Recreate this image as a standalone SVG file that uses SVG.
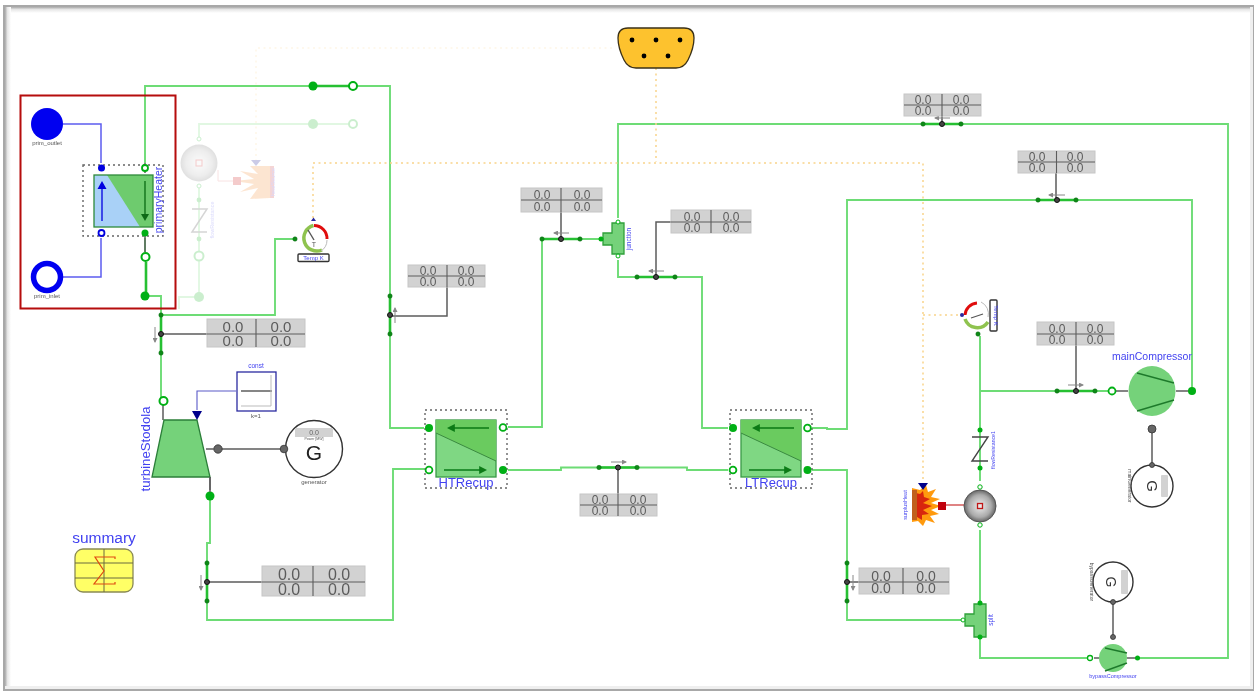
<svg xmlns="http://www.w3.org/2000/svg" width="1257" height="695" viewBox="0 0 1257 695">
<style>
text{font-family:"Liberation Sans",Arial,sans-serif;text-anchor:middle}
.g{fill:none;stroke:#6ddc75;stroke-width:1.9}
.gt{fill:none;stroke:#25c032;stroke-width:2.6}
.bl{fill:none;stroke:#5c5cf0;stroke-width:1.5}
.y{fill:none;stroke:#f9d48a;stroke-width:1.5;stroke-dasharray:2 3.5}
.sh{fill:none;stroke:#5c5c5c;stroke-width:1.5}
.tb{fill:#d2d2d2;stroke:#c6c6c6;stroke-width:1}
.tl{stroke:#5c5c5c;stroke-width:1.1;fill:none}
.tv{fill:#5c5c5c}
.dot{fill:#00b012}
.open{fill:#fff;stroke:#00b012}
.sd{fill:#0c8a14;stroke:#0b6a12;stroke-width:.5}
.sc{fill:#444;stroke:#111;stroke-width:1}
.lbl{fill:#4343f0}
.dash{fill:none;stroke:#666;stroke-width:1.4;stroke-dasharray:2 3}
.ar{fill:none;stroke:#0a7a16;stroke-width:1.6}
.sarr{fill:none;stroke:#888;stroke-width:1;marker-end:url(#sa)}
.comp{fill:#74d27a}
.cl{stroke:#1f7a2c;stroke-width:1.4;fill:none}
.gen{fill:#fff;stroke:#333;stroke-width:1.4}
.gd{fill:#666;stroke:#333;stroke-width:.8}
</style>
<defs>
<filter id="soft" filterUnits="userSpaceOnUse" x="0" y="0" width="1257" height="695"><feGaussianBlur stdDeviation="0.45"/></filter>
<marker id="sa" markerWidth="5" markerHeight="5" refX="4" refY="2.5" orient="auto"><path d="M0 0L5 2.5L0 5Z" fill="#888"/></marker>
<marker id="da" markerWidth="5" markerHeight="5" refX="3" refY="2.5" orient="auto"><path d="M0 0L5 2.5L0 5Z" fill="#0a7a16"/></marker>
<radialGradient id="ball"><stop offset="0" stop-color="#eee"/><stop offset=".7" stop-color="#aaa"/><stop offset="1" stop-color="#666"/></radialGradient>
<linearGradient id="fr" x1="0" y1="0" x2="0" y2="1"><stop offset="0" stop-color="#aaa"/><stop offset=".4" stop-color="#e6e6e6"/><stop offset="1" stop-color="#fff"/></linearGradient>
<linearGradient id="fl" x1="0" y1="0" x2="1" y2="0"><stop offset="0" stop-color="#aaa"/><stop offset=".4" stop-color="#e6e6e6"/><stop offset="1" stop-color="#fff"/></linearGradient>
</defs>
<g id="diagram" filter="url(#soft)">
<g id="frame">
<rect width="1257" height="695" fill="#fff"/>
<rect x="4" y="6" width="1249" height="684" fill="none" stroke="#a8a8a8" stroke-width="2"/>
<rect x="5" y="7" width="1247" height="6" fill="url(#fr)"/>
<rect x="5" y="7" width="6" height="682" fill="url(#fl)"/>
<rect x="1250" y="7" width="3" height="682" fill="#efefef"/>
<rect x="5" y="686" width="1247" height="3" fill="#efefef"/>
</g>
<g id="faded" opacity=".2">
<path d="M353 124H199V139M199 186V297M199 297H179V309" class="g"/>
<path d="M612 48H256V160" class="y"/>
<path d="M218 170V181H233" fill="none" stroke="#e07070" stroke-width="1"/>
<circle cx="199" cy="163" r="18.5" fill="url(#ball)"/>
<rect x="196" y="160" width="6" height="6" fill="none" stroke="#c00" stroke-width="1"/>
<circle cx="199" cy="139" r="2" class="open"/><circle cx="199" cy="186" r="2" class="open"/>
<circle cx="313" cy="124" r="5" class="dot"/><circle cx="353" cy="124" r="4" class="open" stroke-width="2"/>
<circle cx="199" cy="200" r="2.4" class="dot"/><circle cx="199" cy="239" r="2.4" class="dot"/>
<path d="M192 209H207L192 232H207" fill="none" stroke="#333" stroke-width="1.5"/>
<circle cx="199" cy="256" r="4.5" class="open" stroke-width="2"/><circle cx="199" cy="297" r="5" class="dot"/>
<text x="214" y="220" font-size="5.500" class="lbl" transform="rotate(-90 214 220)">flowResistance</text>
<path d="M270 166L250 166L258 174L240 171L254 179L234 181L254 184L240 192L258 188L250 199L270 198Z" fill="#f58220"/>
<rect x="233" y="177" width="8" height="8" fill="#c00"/>
<path d="M251 160H261L256 166Z" fill="#00008b"/>
<rect x="270" y="166" width="4" height="32" fill="#c33"/>
<text x="275" y="182" font-size="5.500" class="lbl" transform="rotate(-90 275 182)">heatSource</text>
</g>
<g id="connectors">
<path d="M145 163V86H313M353 86H390V428H424M145 238V252M146 262V296H161V400" class="g"/>
<path d="M313 86H349M146 262V296" class="gt"/>
<path d="M161 315H275V239H295" class="g"/>
<path d="M161 315V353" class="gt"/>
<path d="M210 497V543H207V620H393V469H424" class="g"/>
<path d="M508 427H542V239H600" class="g"/><path d="M542 239H580" class="gt"/>
<path d="M618 218V124H1228V658H1137" class="g"/>
<path d="M618 260V277H702V428H728" class="g"/><path d="M637 277H675" class="gt"/>
<path d="M508 470H561V467.500H687V470H728" class="g"/><path d="M599 467.500H637" class="gt"/>
<path d="M812 428H827V429H847V200H1192V391" class="g"/><path d="M1038 200H1076" class="gt"/>
<path d="M812 470H847V620H961" class="g"/><path d="M847 563V601" class="gt"/>
<path d="M980 603V530M980 481V336M980 391H1108" class="g"/><path d="M1057 391H1095" class="gt"/>
<path d="M980 637V658H1087" class="g"/>
<path d="M923 124H961M390 296V335" class="gt" stroke-width="1.6"/>
<path d="M207 563V601" class="gt"/>
<path d="M63 124H101V163M63 277H101V238" class="bl"/>
<path d="M236 391H197V410" fill="none" stroke="#5a5ac8" stroke-width="1.100"/>
<path d="M656 68V162M313 218V163H923V480M923 315H964" class="y"/>
<path d="M945 505H964" fill="none" stroke="#d45a5a" stroke-width="1.500"/>
<path d="M218 449H284M1152 433V465M1113 603V637" class="sh" stroke-width="1.700"/>
<path d="M145 173V163M145 233V252M163 405V420M210 477V490M1116 391H1128M1176 391H1192M1094 658H1099M1127 658H1137" class="sh"/>
<path d="M942 105V124M1056 162V200M561 200V239M711 222H656V277M447 276V316H390M618 505V467M256 334H161M313 582H207M903 582H847M1076 333V391" class="sh"/>
</g>
<g id="sensors">
<g id="flow1"><circle cx="923" cy="124" r="2.200" class="sd"/><circle cx="942" cy="124" r="2.500" class="sc"/><circle cx="961" cy="124" r="2.200" class="sd"/><path d="M950 118H935" class="sarr"/></g>
<g id="flow2"><circle cx="1038" cy="200" r="2.200" class="sd"/><circle cx="1057" cy="200" r="2.500" class="sc"/><circle cx="1076" cy="200" r="2.200" class="sd"/><path d="M1065 195H1049" class="sarr"/></g>
<g id="flow3"><circle cx="542" cy="239" r="2.200" class="sd"/><circle cx="561" cy="239" r="2.500" class="sc"/><circle cx="580" cy="239" r="2.200" class="sd"/><path d="M569 233H554" class="sarr"/></g>
<g id="flow4"><circle cx="637" cy="277" r="2.200" class="sd"/><circle cx="656" cy="277" r="2.500" class="sc"/><circle cx="675" cy="277" r="2.200" class="sd"/><path d="M664 271H649" class="sarr"/></g>
<g id="flow5"><circle cx="390" cy="296" r="2.200" class="sd"/><circle cx="390" cy="315" r="2.500" class="sc"/><circle cx="390" cy="334" r="2.200" class="sd"/><path d="M395 323V308" class="sarr"/></g>
<g id="flow6"><circle cx="599" cy="467.500" r="2.200" class="sd"/><circle cx="618" cy="467.500" r="2.500" class="sc"/><circle cx="637" cy="467.500" r="2.200" class="sd"/><path d="M611 462H626" class="sarr"/></g>
<g id="flow7"><circle cx="161" cy="315" r="2.200" class="sd"/><circle cx="161" cy="334" r="2.500" class="sc"/><circle cx="161" cy="353" r="2.200" class="sd"/><path d="M155 327V342" class="sarr"/></g>
<g id="flow8"><circle cx="207" cy="563" r="2.200" class="sd"/><circle cx="207" cy="582" r="2.500" class="sc"/><circle cx="207" cy="601" r="2.200" class="sd"/><path d="M201 575V590" class="sarr"/></g>
<g id="flow9"><circle cx="847" cy="563" r="2.200" class="sd"/><circle cx="847" cy="582" r="2.500" class="sc"/><circle cx="847" cy="601" r="2.200" class="sd"/><path d="M853 575V590" class="sarr"/></g>
<g id="flow10"><circle cx="1057" cy="391" r="2.200" class="sd"/><circle cx="1076" cy="391" r="2.500" class="sc"/><circle cx="1095" cy="391" r="2.200" class="sd"/><path d="M1068 385H1083" class="sarr"/></g>
</g>
<g id="tables">
<g id="table1"><rect x="904" y="94" width="77" height="22" class="tb"/><path d="M904 105H981M942 94V116" class="tl"/><text x="923" y="104" font-size="12" class="tv">0.0</text><text x="961" y="104" font-size="12" class="tv">0.0</text><text x="923" y="115" font-size="12" class="tv">0.0</text><text x="961" y="115" font-size="12" class="tv">0.0</text></g>
<g id="table2"><rect x="1018" y="151" width="77" height="22" class="tb"/><path d="M1018 162H1095M1056.500 151V173" class="tl"/><text x="1037" y="161" font-size="12" class="tv">0.0</text><text x="1075" y="161" font-size="12" class="tv">0.0</text><text x="1037" y="172" font-size="12" class="tv">0.0</text><text x="1075" y="172" font-size="12" class="tv">0.0</text></g>
<g id="table3"><rect x="521" y="188" width="81" height="24" class="tb"/><path d="M521 200H602M561 188V212" class="tl"/><text x="542" y="199" font-size="12" class="tv">0.0</text><text x="582" y="199" font-size="12" class="tv">0.0</text><text x="542" y="211" font-size="12" class="tv">0.0</text><text x="582" y="211" font-size="12" class="tv">0.0</text></g>
<g id="table4"><rect x="671" y="210" width="80" height="23" class="tb"/><path d="M671 222H751M711 210V233" class="tl"/><text x="692" y="221" font-size="12" class="tv">0.0</text><text x="731" y="221" font-size="12" class="tv">0.0</text><text x="692" y="232" font-size="12" class="tv">0.0</text><text x="731" y="232" font-size="12" class="tv">0.0</text></g>
<g id="table5"><rect x="408" y="265" width="77" height="22" class="tb"/><path d="M408 276H485M447 265V287" class="tl"/><text x="428" y="275" font-size="12" class="tv">0.0</text><text x="466" y="275" font-size="12" class="tv">0.0</text><text x="428" y="286" font-size="12" class="tv">0.0</text><text x="466" y="286" font-size="12" class="tv">0.0</text></g>
<g id="table6"><rect x="580" y="494" width="77" height="22" class="tb"/><path d="M580 505H657M618 494V516" class="tl"/><text x="600" y="504" font-size="12" class="tv">0.0</text><text x="638" y="504" font-size="12" class="tv">0.0</text><text x="600" y="515" font-size="12" class="tv">0.0</text><text x="638" y="515" font-size="12" class="tv">0.0</text></g>
<g id="table7"><rect x="207" y="319" width="98" height="28" class="tb"/><path d="M207 334H305M256 319V347" class="tl"/><text x="233" y="332" font-size="15" class="tv">0.0</text><text x="281" y="332" font-size="15" class="tv">0.0</text><text x="233" y="346" font-size="15" class="tv">0.0</text><text x="281" y="346" font-size="15" class="tv">0.0</text></g>
<g id="table8"><rect x="262" y="566" width="103" height="30" class="tb"/><path d="M262 582H365M313 566V596" class="tl"/><text x="289" y="580" font-size="16" class="tv">0.0</text><text x="339" y="580" font-size="16" class="tv">0.0</text><text x="289" y="595" font-size="16" class="tv">0.0</text><text x="339" y="595" font-size="16" class="tv">0.0</text></g>
<g id="table9"><rect x="859" y="568" width="90" height="26" class="tb"/><path d="M859 582H949M903 568V594" class="tl"/><text x="881" y="581" font-size="14" class="tv">0.0</text><text x="926" y="581" font-size="14" class="tv">0.0</text><text x="881" y="593" font-size="14" class="tv">0.0</text><text x="926" y="593" font-size="14" class="tv">0.0</text></g>
<g id="table10"><rect x="1037" y="322" width="77" height="23" class="tb"/><path d="M1037 334H1114M1076 322V345" class="tl"/><text x="1057" y="333" font-size="12" class="tv">0.0</text><text x="1095" y="333" font-size="12" class="tv">0.0</text><text x="1057" y="344" font-size="12" class="tv">0.0</text><text x="1095" y="344" font-size="12" class="tv">0.0</text></g>
</g>
<g id="prim_outlet"><circle cx="47" cy="124" r="16" fill="#0000f0"/><text x="47" y="145" font-size="6" fill="#555">prim_outlet</text></g>
<g id="prim_inlet"><circle cx="47" cy="277" r="13.500" fill="#fff" stroke="#0000f0" stroke-width="5.500"/><text x="47" y="298" font-size="6" fill="#555">prim_inlet</text></g>
<g id="primaryHeater">
<rect x="83" y="165" width="80" height="71" class="dash"/>
<rect x="94" y="175" width="59" height="52" fill="#a9d1f7"/>
<path d="M107 175H153V227H140Z" fill="#6ecb6e"/>
<rect x="94" y="175" width="59" height="52" fill="none" stroke="#2f8a3a" stroke-width="1.300"/>
<path d="M102 221V186" fill="none" stroke="#0000e0" stroke-width="1.300"/><path d="M97.500 189L102 181L106.500 189Z" fill="#0000e0"/>
<path d="M145 181V216" fill="none" stroke="#0a6a14" stroke-width="1.300"/><path d="M141 214L145 221L149 214Z" fill="#0a6a14"/>
<circle cx="101.500" cy="168" r="3.500" fill="#0000e0"/><circle cx="101.500" cy="233" r="3" fill="#fff" stroke="#0000e0" stroke-width="1.800"/>
<circle cx="145" cy="168" r="3" fill="#fff" stroke="#00b012" stroke-width="1.800"/><circle cx="145" cy="233" r="3.500" class="dot"/>
<text x="162" y="200" font-size="10.500" class="lbl" transform="rotate(-90 162 200)">primaryHeater</text>
<circle cx="145.500" cy="257" r="4" class="open" stroke-width="2"/>
<circle cx="145" cy="296" r="4.500" class="dot"/>
<circle cx="313" cy="86" r="4.500" class="dot"/>
<circle cx="353" cy="86" r="4" class="open" stroke-width="2"/>
</g>
<rect id="highlight" x="20.500" y="95.500" width="155" height="213" fill="none" stroke="#b50808" stroke-width="2"/>
<g id="temp">
<path d="M313.500 225.500A13 13 0 1 0 322 250" fill="none" stroke="#8fc34f" stroke-width="3.500"/>
<path d="M314 225.500A13 13 0 0 1 327 239" fill="none" stroke="#e01010" stroke-width="3"/>
<path d="M327 240A13 13 0 0 1 321 251" fill="none" stroke="#bbb" stroke-width="1"/>
<path d="M308 230L314 240" stroke="#555" stroke-width="1.400"/>
<circle cx="295" cy="239" r="2.200" class="sd"/>
<path d="M311 221L313.500 217.500L316 221Z" fill="#2a2aa0"/>
<text x="314" y="247" font-size="7" fill="#555">T</text>
<rect x="298" y="254" width="31" height="7.500" rx="1" fill="#fff" stroke="#333" stroke-width="1.400"/>
<text x="313.500" y="260" font-size="6" class="lbl">Temp K</text>
</g>
<g id="turbineStodola">
<path d="M164 420H197L210 477H152Z" class="comp" stroke="#2c7f39" stroke-width="1.300"/>
<path d="M192 411H202L197 420Z" fill="#00008b"/>
<circle cx="163.500" cy="401" r="4" class="open" stroke-width="2"/>
<circle cx="210" cy="496" r="4.500" class="dot"/>
<circle cx="218" cy="449" r="4.200" class="gd"/>
<path d="M206 449H214" class="sh"/>
<path d="M210 477V492" class="sh"/>
<text x="150" y="449" font-size="13.200" class="lbl" transform="rotate(-90 150 449)">turbineStodola</text>
</g>
<g id="const">
<rect x="237" y="372" width="39" height="39" fill="#fff" stroke="#2a2aa0" stroke-width="1.300"/>
<path d="M241 391H272" stroke="#444" stroke-width="1.300"/>
<path d="M271 375V406H241" fill="none" stroke="#bbb" stroke-width="1"/>
<text x="256" y="368" font-size="6.500" class="lbl">const</text>
<text x="256" y="418" font-size="6" fill="#555">k=1</text>
</g>
<g id="generator">
<circle cx="314" cy="449" r="28.500" class="gen"/>
<rect x="295" y="428" width="38" height="9" fill="#d2d2d2"/>
<text x="314" y="435" font-size="7" fill="#666">0.0</text>
<text x="314" y="440" font-size="3.500" fill="#555">Power [MW]</text>
<text x="314" y="460" font-size="21" fill="#222">G</text>
<circle cx="284" cy="449" r="3.800" class="gd"/>
<text x="314" y="484" font-size="6" fill="#555">generator</text>
</g>
<g id="summary">
<text x="104" y="543" font-size="15.500" class="lbl">summary</text>
<rect x="75" y="549" width="58" height="43" rx="8" fill="#ffff66" stroke="#8a8a55" stroke-width="1.300"/>
<path d="M75 563H133M75 578H133M104 549V592" stroke="#6a6a40" stroke-width="1" fill="none"/>
<path d="M115 559V557H95L104 571L94 584H115V582" fill="none" stroke="#e04a10" stroke-width="1.200"/>
</g>
<g id="HTRecup">
<rect x="425" y="410" width="82" height="78" class="dash"/>
<rect x="436" y="420" width="60" height="57" fill="#7fd783" stroke="#3a9a45" stroke-width="1.300"/>
<path d="M436 433V420H496V461Z" fill="#6bcb5f"/>
<path d="M436 433L496 461" stroke="#3a8a40" stroke-width="1"/>
<path d="M489 428H450" class="ar" marker-end="url(#da)"/>
<path d="M444 470H484" class="ar" marker-end="url(#da)"/>
<circle cx="429" cy="428" r="4" class="dot"/><circle cx="503" cy="427.500" r="3.400" class="open" stroke-width="1.800"/>
<circle cx="429" cy="470" r="3.400" class="open" stroke-width="1.800"/><circle cx="503" cy="470" r="4" class="dot"/>
<text x="466" y="487" font-size="13" class="lbl">HTRecup</text>
</g>
<g id="LTRecup">
<rect x="730" y="410" width="82" height="78" class="dash"/>
<rect x="741" y="420" width="60" height="57" fill="#7fd783" stroke="#3a9a45" stroke-width="1.300"/>
<path d="M741 433V420H801V461Z" fill="#6bcb5f"/>
<path d="M741 433L801 461" stroke="#3a8a40" stroke-width="1"/>
<path d="M794 428H755" class="ar" marker-end="url(#da)"/>
<path d="M749 470H789" class="ar" marker-end="url(#da)"/>
<circle cx="733" cy="428" r="4" class="dot"/><circle cx="807.500" cy="428" r="3.400" class="open" stroke-width="1.800"/>
<circle cx="733" cy="470" r="3.400" class="open" stroke-width="1.800"/><circle cx="807.500" cy="470" r="4" class="dot"/>
<text x="771" y="487" font-size="13" class="lbl">LTRecup</text>
</g>
<g id="junction">
<path d="M612 223H624V254H612V245H603V233H612Z" class="comp" stroke="#2fa03a" stroke-width="1.300"/>
<circle cx="601" cy="239" r="2.500" class="dot"/><circle cx="618" cy="222" r="2" class="open"/><circle cx="618" cy="256" r="2" class="open"/>
<text x="631" y="239" font-size="6.500" class="lbl" transform="rotate(-90 631 239)">junction</text>
</g>
<g id="split">
<path d="M974 604H986V637H974V626H965V614H974Z" class="comp" stroke="#2fa03a" stroke-width="1.300"/>
<circle cx="963" cy="620" r="2" class="open"/><circle cx="980" cy="603" r="2.500" class="dot"/><circle cx="980" cy="637" r="2.500" class="dot"/>
<text x="993" y="620" font-size="6.500" class="lbl" transform="rotate(-90 993 620)">split</text>
</g>
<g id="bus">
<path d="M628 28H684Q694 28 694 38Q694 48 688 60Q684 68 676 68H636Q628 68 624 60Q618 48 618 38Q618 28 628 28Z" fill="#fdc22f" stroke="#3a3018" stroke-width="1.300"/>
<circle cx="632" cy="40" r="2.400"/><circle cx="656" cy="40" r="2.400"/><circle cx="680" cy="40" r="2.400"/><circle cx="644" cy="56" r="2.400"/><circle cx="668" cy="56" r="2.400"/>
</g>
<g id="temp1">
<path d="M965 319A13 13 0 0 0 988 322" fill="none" stroke="#8fc34f" stroke-width="3.500"/>
<path d="M965 315A13 13 0 0 1 977 303" fill="none" stroke="#e01010" stroke-width="3"/>
<path d="M981 302A13 13 0 0 1 988 317" fill="none" stroke="#bbb" stroke-width="1"/>
<path d="M971 318L983 314" stroke="#555" stroke-width="1.300"/>
<circle cx="962" cy="315" r="2" fill="#2a2aa0"/>
<circle cx="978" cy="334" r="2.200" class="sd"/>
<rect x="990" y="300" width="7" height="31" rx="1" fill="#fff" stroke="#333" stroke-width="1.400"/>
<text x="993.500" y="315.500" font-size="6" class="lbl" transform="rotate(90 993.500 315.500)">Temp K</text>
</g>
<g id="flowResistance1">
<circle cx="980" cy="430" r="2.500" class="dot"/><circle cx="980" cy="468" r="2.500" class="dot"/>
<path d="M972 437H988L972 461H988" fill="none" stroke="#444" stroke-width="1.400"/>
<text x="995" y="450" font-size="5.200" class="lbl" transform="rotate(-90 995 450)">flowResistance1</text>
</g>
<g id="volume">
<circle cx="980" cy="506" r="16" fill="url(#ball)" stroke="#555" stroke-width="1"/>
<rect x="977.500" y="503.500" width="5" height="5" fill="none" stroke="#c01818" stroke-width="1.300"/>
<circle cx="980" cy="487" r="2.200" class="open"/><circle cx="980" cy="525" r="2.200" class="open"/>
</g>
<g id="surplusHeat">
<path d="M912 488L920 490L926 485L928 492L936 489L931 497L940 499L931 503L941 506L931 510L939 514L930 516L935 523L926 520L923 526L918 521L912 522Z" fill="#ff9a10"/>
<path d="M912 492L920 494L923 491L924 497L930 499L923 503L932 506L923 510L929 514L922 515L922 520L917 517L912 518Z" fill="#d8280c"/>
<rect x="912" y="490" width="5" height="30" fill="#c0601a"/>
<path d="M918 483H928L923 490Z" fill="#00008b"/>
<rect x="938" y="502" width="8" height="8" fill="#c00010"/>
<text x="907" y="505" font-size="5.500" class="lbl" transform="rotate(-90 907 505)">surplusHeat</text>
</g>
<g id="mainCompressor">
<ellipse cx="1152" cy="391" rx="23.500" ry="25" class="comp"/>
<path d="M1137 373L1174 383M1137 411L1174 400" class="cl"/>
<circle cx="1112" cy="391" r="3.500" class="open" stroke-width="1.800"/><circle cx="1192" cy="391" r="4" class="dot"/>
<circle cx="1152" cy="429" r="4" class="gd"/>
<text x="1152" y="360" font-size="10.500" class="lbl">mainCompressor</text>
</g>
<g id="mainGenerator">
<circle cx="1152" cy="486" r="21" class="gen"/>
<circle cx="1152" cy="465" r="2.500" class="gd"/>
<rect x="1161" y="475" width="7" height="22" rx="1" fill="#d2d2d2"/>
<text x="1152" y="486" font-size="15" fill="#333" transform="rotate(90 1152 486)" dy="5">G</text>
<text x="1128" y="486" font-size="5" fill="#555" transform="rotate(90 1128 486)">mainGenerator</text>
</g>
<g id="bypassCompressor">
<circle cx="1113" cy="658" r="14" class="comp"/>
<path d="M1105 648L1127 653M1105 671L1127 663" class="cl"/>
<circle cx="1090" cy="658" r="2.500" class="open" stroke-width="1.300"/><circle cx="1137.500" cy="658" r="2.500" class="dot"/>
<circle cx="1113" cy="637" r="2.500" class="gd"/>
<text x="1113" y="678" font-size="5.500" class="lbl">bypassCompressor</text>
</g>
<g id="bypassGenerator">
<circle cx="1113" cy="582" r="20" class="gen"/>
<circle cx="1113" cy="602" r="2.500" class="gd"/>
<rect x="1121" y="570" width="7" height="24" rx="1" fill="#d2d2d2"/>
<text x="1111" y="582" font-size="14" fill="#333" transform="rotate(90 1111 582)" dy="5">G</text>
<text x="1090" y="582" font-size="5" fill="#555" transform="rotate(90 1090 582)">bypassGenerator</text>
</g>
</g>
</svg>
